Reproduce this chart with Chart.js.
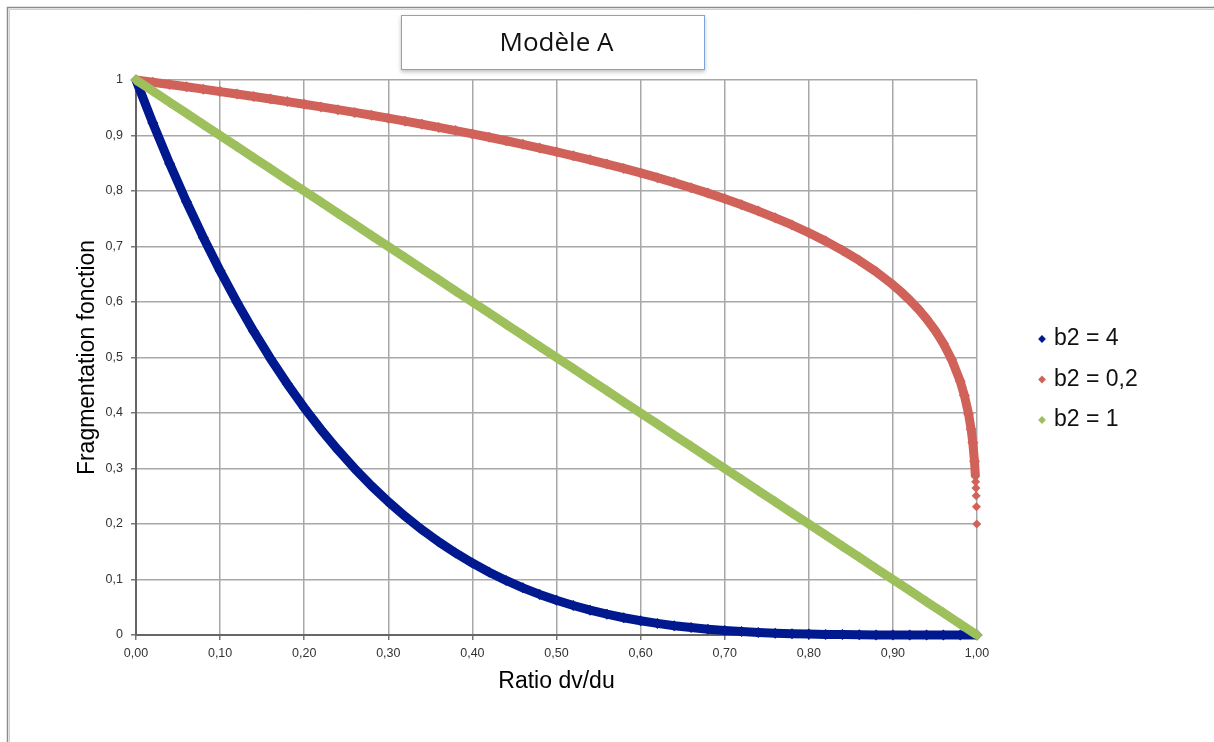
<!DOCTYPE html>
<html><head><meta charset="utf-8">
<script src="https://cdn.jsdelivr.net/npm/chart.js@4.4.1/dist/chart.umd.min.js"></script>
<style>html,body{margin:0;padding:0;background:#fff;overflow:hidden}#wrap{width:1214px;height:742px;position:relative}</style>
</head><body><div id="wrap"><canvas id="c" width="1214" height="742"></canvas></div>
<script>
const chartTitle = 'Modèle A';
const xAxisTitle = 'Ratio dv/du';
const yAxisTitle = 'Fragmentation fonction';
const seriesLabels = ['b2 = 4', 'b2 = 0,2', 'b2 = 1'];
const xTickLabels = ['0,00','0,10','0,20','0,30','0,40','0,50','0,60','0,70','0,80','0,90','1,00'];
const yTickLabels = ['0','0,1','0,2','0,3','0,4','0,5','0,6','0,7','0,8','0,9','1'];

// shared x values for b2 = 4 and b2 = 1
const ratioX = [0,0.02,0.04,0.06,0.08,0.10,0.12,0.14,0.16,0.18,0.20,0.22,0.24,0.26,0.28,0.30,0.32,0.34,0.36,0.38,0.40,0.42,0.44,0.46,0.48,0.50,0.52,0.54,0.56,0.58,0.60,0.62,0.64,0.66,0.68,0.70,0.72,0.74,0.76,0.78,0.80,0.82,0.84,0.86,0.88,0.90,0.92,0.94,0.96,0.98,1.00];
const seriesB4 = [1,0.9224,0.8493,0.7807,0.7164,0.6561,0.5997,0.5470,0.4979,0.4521,0.4096,0.3702,0.3336,0.2999,0.2687,0.2401,0.2138,0.1897,0.1678,0.1478,0.1296,0.1132,0.0983,0.0850,0.0731,0.0625,0.0531,0.0448,0.0375,0.0311,0.0256,0.0209,0.0168,0.0134,0.0105,0.0081,0.0061,0.0046,0.0033,0.0023,0.0016,0.0010,0.0007,0.0004,0.0002,0.0001,0,0,0,0,0];
const seriesB1 = [1,0.98,0.96,0.94,0.92,0.90,0.88,0.86,0.84,0.82,0.80,0.78,0.76,0.74,0.72,0.70,0.68,0.66,0.64,0.62,0.60,0.58,0.56,0.54,0.52,0.50,0.48,0.46,0.44,0.42,0.40,0.38,0.36,0.34,0.32,0.30,0.28,0.26,0.24,0.22,0.20,0.18,0.16,0.14,0.12,0.10,0.08,0.06,0.04,0.02,0];

// b2 = 0,2 has its own x values (denser near 1)
const ratioXB02 = [0,0.02,0.04,0.06,0.08,0.10,0.12,0.14,0.16,0.18,0.20,0.22,0.24,0.26,0.28,0.30,0.32,0.34,0.36,0.38,0.40,0.42,0.44,0.46,0.48,0.50,0.52,0.54,0.56,0.58,0.60,0.62,0.64,0.66,0.68,0.70,0.72,0.74,0.76,0.78,0.80,0.82,0.84,0.86,0.88,0.90,0.91,0.92,0.93,0.94,0.95,0.96,0.97,0.98,0.985,0.99,0.993,0.995,0.997,0.9981,0.9984,0.9987,0.9990,0.9993,0.9997];
const seriesB02 = [1,0.9960,0.9919,0.9877,0.9835,0.9791,0.9748,0.9703,0.9657,0.9611,0.9564,0.9515,0.9466,0.9416,0.9364,0.9312,0.9258,0.9203,0.9146,0.9088,0.9029,0.8968,0.8905,0.8841,0.8774,0.8706,0.8635,0.8562,0.8486,0.8407,0.8326,0.8240,0.8152,0.8059,0.7962,0.7860,0.7752,0.7638,0.7517,0.7388,0.7248,0.7097,0.6931,0.6749,0.6544,0.6310,0.6178,0.6034,0.5875,0.5697,0.5493,0.5253,0.4959,0.4573,0.4317,0.3981,0.3707,0.3466,0.3129,0.285,0.276,0.265,0.251,0.231,0.200];

const colors = ['#00198f', '#d0625a', '#9dc05c'];
const FONT = '"Liberation Sans", Arial, Helvetica, sans-serif';
const tailFirst = ratioXB02.indexOf(0.9981);

function pts(xs, ys) { return xs.map((x, i) => ({ x: x, y: ys[i] })); }

function seriesStyle(color, order) {
  return {
    showLine: true, borderColor: color, backgroundColor: color, borderWidth: 9,
    pointStyle: 'rectRot', pointRadius: 5.5, pointBorderWidth: 0, pointHoverRadius: 5.5,
    tension: 0, clip: false, order: order, borderJoinStyle: 'round'
  };
}

const framePlugin = {
  id: 'frame',
  beforeDraw(chart) {
    const ctx = chart.ctx;
    ctx.save();
    ctx.fillStyle = '#fff';
    ctx.fillRect(0, 0, chart.width, chart.height);
    ctx.strokeStyle = '#8c8c8c';
    ctx.lineWidth = 1.5;
    ctx.beginPath();
    ctx.moveTo(7.5, chart.height);
    ctx.lineTo(7.5, 7.5);
    ctx.lineTo(chart.width, 7.5);
    ctx.stroke();
    ctx.strokeStyle = '#d0d0d0';
    ctx.lineWidth = 1;
    ctx.beginPath();
    ctx.moveTo(9.5, chart.height);
    ctx.lineTo(9.5, 9.5);
    ctx.lineTo(chart.width, 9.5);
    ctx.stroke();
    ctx.shadowColor = 'rgba(0,0,0,0.25)';
    ctx.shadowBlur = 4;
    ctx.shadowOffsetY = 2;
    ctx.fillStyle = '#fff';
    ctx.fillRect(401, 15, 304, 55);
    ctx.shadowColor = 'transparent';
    ctx.strokeStyle = '#7ba4d8';
    ctx.lineWidth = 1;
    ctx.strokeRect(401.5, 15.5, 303, 54);
    ctx.restore();
  }
};

const legendPlace = {
  id: 'legendPlace',
  afterLayout(chart) {
    const L = chart.legend;
    if (!L || !L.columnSizes || !L.columnSizes.length) return;
    const pad = L.options.labels.padding;
    const fs = L.options.labels.font.size;
    const bw = L.options.labels.boxWidth;
    const dx = 1042 - (L.left + pad + bw / 2);
    L.left += dx; L.right += dx;
    const colH = L.columnSizes[0].height;
    const firstCenter = (L.top + pad + L.bottom - colH) / 2 + fs / 2;
    const dy = 339 - firstCenter;
    L.top += dy; L.bottom += dy;
  }
};

const config = {
  type: 'scatter',
  data: {
    datasets: [
      Object.assign({ label: seriesLabels[0], data: pts(ratioX, seriesB4) }, seriesStyle(colors[0], 3)),
      Object.assign({ label: seriesLabels[1], data: pts(ratioXB02, seriesB02),
        segment: { borderColor: c => (c.p0DataIndex >= tailFirst ? 'rgba(0,0,0,0)' : undefined) } }, seriesStyle(colors[1], 2), { pointRadius: c => (c.dataIndex >= tailFirst ? 4.5 : 5.5) }),
      Object.assign({ label: seriesLabels[2], data: pts(ratioX, seriesB1) }, seriesStyle(colors[2], 1))
    ]
  },
  options: {
    responsive: false, animation: false, devicePixelRatio: 1,
    layout: { padding: { left: 60, right: 60, top: 0, bottom: 40 } },
    plugins: {
      tooltip: { enabled: false },
      title: {
        display: true, text: chartTitle, fullSize: false, color: '#111',
        font: { family: '"Open Sans", sans-serif', size: 26, weight: 'normal', lineHeight: 1.2 },
        padding: { top: 28, bottom: 21 }
      },
      legend: {
        position: 'right', align: 'center',
        labels: {
          usePointStyle: true, boxWidth: 1, boxHeight: 5.5, padding: 17.5, color: '#111',
          font: { family: FONT, size: 23 },
          sort: (a, b) => a.datasetIndex - b.datasetIndex,
          generateLabels: (chart) => Chart.defaults.plugins.legend.labels.generateLabels(chart)
            .map(l => Object.assign(l, { lineWidth: 0, strokeStyle: l.fillStyle }))
        }
      }
    },
    scales: {
      x: {
        type: 'linear', min: 0, max: 1,
        ticks: { stepSize: 0.1, autoSkip: false, maxRotation: 0, color: '#333', padding: 6,
          font: { family: FONT, size: 12.5 },
          callback: v => xTickLabels[Math.round(v * 10)] },
        grid: { color: '#a8a8a8', lineWidth: 1.5, tickLength: 5, tickColor: '#777' },
        border: { color: '#666', width: 2 },
        title: { display: true, text: xAxisTitle, color: '#000', font: { family: FONT, size: 23 }, padding: { top: 1, bottom: 0 } }
      },
      y: {
        type: 'linear', min: 0, max: 1,
        ticks: { stepSize: 0.1, autoSkip: false, color: '#333', padding: 8,
          font: { family: FONT, size: 12.5 },
          callback: v => yTickLabels[Math.round(v * 10)] },
        grid: { color: '#a8a8a8', lineWidth: 1.5, tickLength: 5, tickColor: '#777' },
        border: { color: '#666', width: 2 },
        title: { display: true, text: yAxisTitle, color: '#000', font: { family: FONT, size: 23 }, padding: { top: 4, bottom: -4 } }
      }
    }
  },
  plugins: [framePlugin, legendPlace]
};

const chart = new Chart(document.getElementById('c'), config);
for (let i = 0; i < 4; i++) {
  const a = chart.chartArea;
  const p = chart.options.layout.padding;
  const dl = 136 - a.left, dr = a.right - 977, db = a.bottom - 635, dt = 80 - a.top;
  if (Math.abs(dl) < 0.5 && Math.abs(dr) < 0.5 && Math.abs(db) < 0.5 && Math.abs(dt) < 0.5) break;
  p.left += dl; p.right += dr; p.bottom += db;
  chart.options.plugins.title.padding.bottom += dt;
  chart.update('none');
}
</script></body></html>
